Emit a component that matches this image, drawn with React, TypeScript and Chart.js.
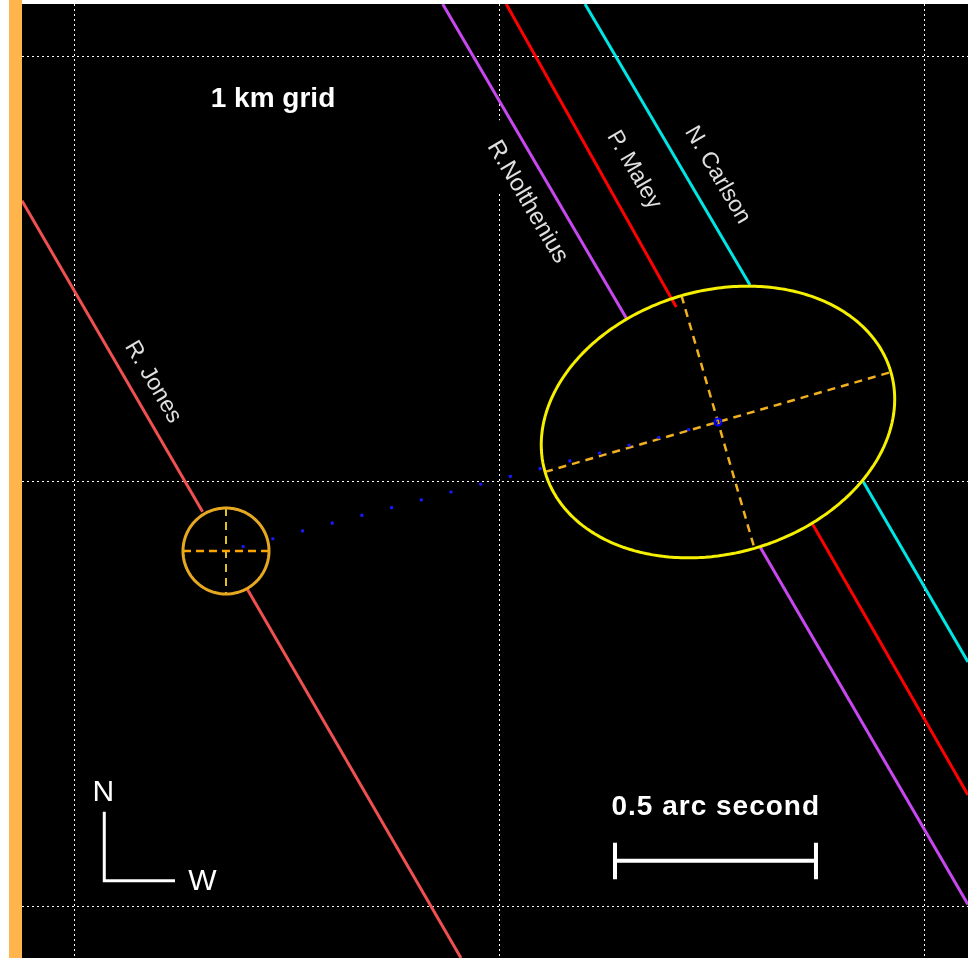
import React, { useEffect, useRef } from "react";
import { Chart, registerables } from "chart.js";

Chart.register(...registerables);

// ---- axes (km) ----
const X_RANGE = [-1.1235, 1.1024];
const Y_RANGE = [-1.12, 1.1247];
const GRID_TICKS = [-1, 0, 1];

// ---- occultation chords (km): [start, gapStart, gapEnd, end] ----
const chordJones = [[-1.1235, 0.6619], [-0.6986, -0.0699], [-0.5946, -0.2501], [-0.0906, -1.12]];
const chordNolthenius = [[-0.1337, 1.1247], [0.2993, 0.3842], [0.6129, -0.1522], [1.1024, -0.9939]];
const chordMaley = [[0.0158, 1.1247], [0.4158, 0.4118], [0.7372, -0.1], [1.1024, -0.7365]];
const chordCarlson = [[0.2012, 1.1247], [0.5894, 0.4635], [0.856, 0.0007], [1.1024, -0.4235]];

// ---- fitted ellipse (km) ----
const ellipseCenter = [0.5141, 0.1412];
const ellipseSemiAxes = [0.4235, 0.3094];
const ellipseTiltDeg = 16.1;

// ---- predicted position circle (km) ----
const predCenter = [-0.6435, -0.1624];
const predRadius = 0.1012;

// ---- scale bar and compass (km) ----
const scaleBarX = [0.2718, 0.7447];
const scaleBarY = [-0.8911, -0.8487, -0.9348];
const compassPts = [[-0.9299, -0.7758], [-0.9299, -0.9381], [-0.7635, -0.9381]];

const FONT = '"Liberation Sans", Arial, Helvetica, sans-serif';

type Lbl = { text: string; x: number; y: number; size: number; bold?: boolean; rot?: number; spacing?: number; color?: string; box?: boolean; baseline?: CanvasTextBaseline };
const LABELS: Lbl[] = [
  { text: "1 km grid", x: -0.5329, y: 0.8831, size: 28, bold: true },
  { text: "0.5 arc second", x: 0.5089, y: -0.7847, size: 28, bold: true, spacing: 1 },
  { text: "N", x: -0.9322, y: -0.7499, size: 30 },
  { text: "W", x: -0.6988, y: -0.96, size: 30 },
  { text: "R. Jones", x: -0.8153, y: 0.2353, size: 23, rot: 59.7, color: "#e0e0e0", box: true, baseline: "middle" },
  { text: "R.Nolthenius", x: 0.0659, y: 0.6588, size: 24, rot: 59.7, color: "#e0e0e0", box: true, baseline: "middle" },
  { text: "P. Maley", x: 0.3165, y: 0.7341, size: 23, rot: 59.7, color: "#e0e0e0", box: true, baseline: "middle" },
  { text: "N. Carlson", x: 0.5129, y: 0.7224, size: 23, rot: 59.7, color: "#e0e0e0", box: true, baseline: "middle" },
];

const pts = (arr: number[][]) => arr.map(([x, y]) => ({ x, y }));

function lineDs(data: number[][], color: string, width: number, order: number, extra: any = {}) {
  return {
    type: "scatter" as const,
    data: pts(data),
    showLine: true,
    borderColor: color,
    backgroundColor: color,
    borderWidth: width,
    pointRadius: 0,
    pointHoverRadius: 0,
    fill: false,
    tension: 0,
    clip: 0,
    order,
    ...extra,
  };
}

function ellipsePoints(): number[][] {
  const [cx, cy] = ellipseCenter;
  const [a, b] = ellipseSemiAxes;
  const p = (ellipseTiltDeg * Math.PI) / 180;
  const out: number[][] = [];
  for (let i = 0; i <= 360; i += 2) {
    const t = (i * Math.PI) / 180;
    out.push([
      cx + a * Math.cos(t) * Math.cos(p) - b * Math.sin(t) * Math.sin(p),
      cy + a * Math.cos(t) * Math.sin(p) + b * Math.sin(t) * Math.cos(p),
    ]);
  }
  return out;
}

function circlePoints(c: number[], r: number): number[][] {
  const out: number[][] = [];
  for (let i = 0; i <= 360; i += 3) {
    const t = (i * Math.PI) / 180;
    out.push([c[0] + r * Math.cos(t), c[1] + r * Math.sin(t)]);
  }
  return out;
}

const bgPlugin = {
  id: "bg",
  beforeDraw(chart: any) {
    const { ctx, width, height, chartArea } = chart;
    ctx.save();
    ctx.fillStyle = "#ffffff";
    ctx.fillRect(0, 0, width, height);
    ctx.fillStyle = "#ffb44c";
    ctx.fillRect(9, 0, chartArea.left - 9, height);
    ctx.fillStyle = "#000000";
    ctx.fillRect(chartArea.left, chartArea.top, chartArea.right - chartArea.left, chartArea.bottom - chartArea.top);
    ctx.restore();
  },
};

const textPlugin = {
  id: "texts",
  afterDatasetsDraw(chart: any) {
    const { ctx } = chart;
    const xs = chart.scales.x;
    const ys = chart.scales.y;
    LABELS.forEach((l) => {
      const px = xs.getPixelForValue(l.x);
      const py = ys.getPixelForValue(l.y);
      ctx.save();
      ctx.translate(px, py);
      if (l.rot) ctx.rotate((l.rot * Math.PI) / 180);
      ctx.font = `${l.bold ? "bold " : ""}${l.size}px ${FONT}`;
      (ctx as any).letterSpacing = `${l.spacing || 0}px`;
      ctx.textAlign = "center";
      ctx.textBaseline = l.baseline || "alphabetic";
      if (l.box) {
        const w = ctx.measureText(l.text).width;
        ctx.fillStyle = "#000";
        ctx.fillRect(-w / 2 - 16, -19, w + 32, 38);
      }
      ctx.fillStyle = l.color || "#ffffff";
      ctx.fillText(l.text, 0, 0);
      ctx.restore();
    });
  },
};

export default function App() {
  const ref = useRef<HTMLCanvasElement | null>(null);
  useEffect(() => {
    if (!ref.current) return;
    const [cx, cy] = ellipseCenter;
    const [a, b] = ellipseSemiAxes;
    const p = (ellipseTiltDeg * Math.PI) / 180;
    const majorAxis = [[cx - a * Math.cos(p), cy - a * Math.sin(p)], [cx + a * Math.cos(p), cy + a * Math.sin(p)]];
    const minorAxis = [[cx - b * Math.sin(p), cy + b * Math.cos(p)], [cx + b * Math.sin(p), cy - b * Math.cos(p)]];
    const predH = [[predCenter[0] - predRadius, predCenter[1]], [predCenter[0] + predRadius, predCenter[1]]];
    const predV = [[predCenter[0], predCenter[1] + predRadius], [predCenter[0], predCenter[1] - predRadius]];
    const chords: [number[][], string][] = [
      [chordJones, "#ef5050"],
      [chordNolthenius, "#c848f0"],
      [chordMaley, "#ff0000"],
      [chordCarlson, "#00e5e5"],
    ];
    const datasets: any[] = [];
    chords.forEach(([c, col]) => {
      datasets.push(lineDs([c[0], c[1]], col, 3, 10));
      datasets.push(lineDs([c[2], c[3]], col, 3, 10));
    });
    datasets.push(lineDs(majorAxis, "#f0b020", 2.5, 8, { borderDash: [8, 6] }));
    datasets.push(lineDs(minorAxis, "#f0b020", 2.5, 8, { borderDash: [8, 6] }));
    datasets.push(lineDs(predH, "#ffa500", 2.5, 8, { borderDash: [8, 5] }));
    datasets.push(lineDs(predV, "#e0c020", 2, 8, { borderDash: [8, 6] }));
    datasets.push(lineDs([predCenter, ellipseCenter], "#1a1aff", 3, 6, { borderDash: [3, 27.7], borderDashOffset: 14.5, borderCapStyle: "butt" }));
    // closed curves: non-zero tension avoids Chart.js' per-pixel fast path (keeps the outline smooth)
    datasets.push(lineDs(ellipsePoints(), "#f5f000", 3, 4, { tension: 0.01 }));
    datasets.push(lineDs(circlePoints(predCenter, predRadius), "#e6a820", 3, 4, { tension: 0.01 }));
    datasets.push(lineDs(compassPts, "#ffffff", 3, 3, { borderJoinStyle: "miter" }));
    datasets.push(lineDs([[scaleBarX[0], scaleBarY[0]], [scaleBarX[1], scaleBarY[0]]], "#ffffff", 4, 3));
    datasets.push(lineDs([[scaleBarX[0], scaleBarY[1]], [scaleBarX[0], scaleBarY[2]]], "#ffffff", 4, 3));
    datasets.push(lineDs([[scaleBarX[1], scaleBarY[1]], [scaleBarX[1], scaleBarY[2]]], "#ffffff", 4, 3));
    datasets.push({
      type: "scatter",
      data: pts([ellipseCenter]),
      showLine: false,
      pointRadius: 3.5,
      pointBorderWidth: 2,
      pointBackgroundColor: "rgba(0,0,0,0)",
      pointBorderColor: "#0000ff",
      clip: 0,
      order: 0,
    });

    const axisOpts = (range: number[]) => ({
      type: "linear" as const,
      min: range[0],
      max: range[1],
      afterBuildTicks: (s: any) => {
        s.ticks = GRID_TICKS.map((v) => ({ value: v }));
      },
      ticks: { display: false },
      grid: { color: "#ffffff", lineWidth: 1, drawTicks: false },
      border: { display: false, dash: [2, 3] },
    });

    const chart = new Chart(ref.current, {
      type: "scatter",
      data: { datasets },
      options: {
        animation: false,
        responsive: false,
        maintainAspectRatio: false,
        devicePixelRatio: 1,
        events: [],
        layout: { autoPadding: false, padding: { left: 22, top: 4, right: 0, bottom: 0 } },
        plugins: { legend: { display: false }, tooltip: { enabled: false } },
        scales: { x: axisOpts(X_RANGE), y: axisOpts(Y_RANGE) },
      } as any,
      plugins: [bgPlugin, textPlugin],
    });
    return () => chart.destroy();
  }, []);
  return (
    <div style={{ position: "absolute", left: 0, top: 0, width: 968, height: 958 }}>
      <canvas ref={ref} width={968} height={958} style={{ display: "block" }} />
    </div>
  );
}
